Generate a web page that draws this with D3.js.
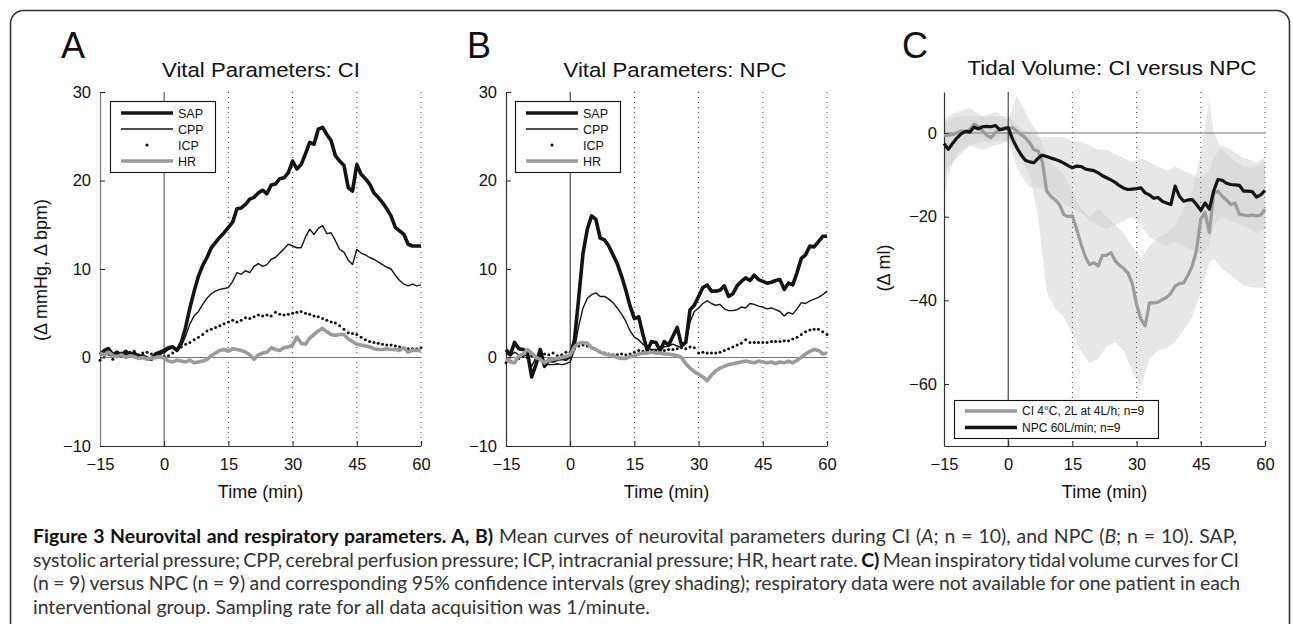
<!DOCTYPE html>
<html>
<head>
<meta charset="utf-8">
<script src="https://cdn.jsdelivr.net/npm/d3@7"></script>
<style>
  body { margin: 0; background: #fff; }
  svg text { font-family: 'Liberation Sans', Arial, sans-serif; }
</style>
</head>
<body>
<div id="chart"></div>
<script>
// sampling grid: one value per minute, -15 .. 60
const minutes = d3.range(-15, 61);
const xTicks = [-15, 0, 15, 30, 45, 60];
const gridMinutes = [15, 30, 45, 60];
const vitalTicks = [-10, 0, 10, 20, 30];
const tidalTicks = [-60, -40, -20, 0];
const vitalLegend = ["SAP", "CPP", "ICP", "HR"];
const tidalLegend = ["CI 4°C, 2L at 4L/h; n=9", "NPC 60L/min; n=9"];

// Panel A: CI
const aSAP = [0.3,0.8,1.0,0.3,0.6,0.2,0.7,0.3,0.5,0.1,0.2,-0.1,-0.2,0.4,0.6,
  0.8,1.1,1.2,0.8,1.7,3.4,5.6,7.5,9.2,10.4,11.3,12.4,13.0,13.6,14.1,14.7,15.3,16.8,16.9,17.3,
  17.9,18.1,18.6,18.9,18.5,19.5,19.6,20.2,20.3,20.9,22.2,21.3,21.8,23.0,24.3,24.1,25.8,26.0,25.2,24.5,
  22.8,22.2,21.7,19.2,18.8,21.8,20.7,20.2,19.6,18.6,18.1,17.5,16.8,16.0,14.7,14.3,13.9,12.8,12.6,12.6,12.6];
const aCPP = [0.5,0.6,0.3,0.1,0.4,0.2,0.3,0.0,0.2,0.0,-0.1,-0.2,0.0,0.3,0.4,
  0.5,0.9,1.1,0.7,1.3,2.4,3.8,4.7,5.2,6.0,6.7,7.2,7.5,7.7,7.8,7.9,8.6,9.6,9.4,9.8,
  9.6,10.3,10.6,10.3,10.5,11.1,11.3,11.8,12.3,12.8,12.6,12.4,12.4,13.6,14.5,13.9,14.6,14.9,14.0,14.1,
  13.2,12.2,11.9,11.0,10.5,12.2,11.8,11.6,11.3,11.1,10.8,10.5,10.2,10.0,9.3,8.7,8.3,8.1,8.3,8.1,8.2];
const aICP = [-0.3,0.2,0.4,-0.2,0.3,0.5,0.4,0.6,0.7,0.3,0.5,0.6,0.4,0.2,0.3,
  0.1,0.2,0.5,0.9,1.2,1.5,1.7,2.0,2.3,2.6,3.0,3.2,3.4,3.6,3.8,4.0,4.2,4.0,4.2,4.5,
  4.4,4.6,4.8,4.7,4.8,4.7,5.1,4.9,4.8,4.9,5.0,5.1,5.2,5.0,4.9,4.7,4.6,4.4,4.2,4.0,
  3.9,3.6,3.2,2.8,2.7,2.6,2.3,2.0,1.8,1.7,1.6,1.5,1.4,1.4,1.3,1.2,1.1,1.0,1.0,1.0,1.1];
const aHR = [0.5,0.3,0.6,0.2,0.1,0.3,0.0,0.2,0.1,-0.1,0.0,-0.2,-0.1,0.0,0.1,
  -0.1,-0.4,-0.5,-0.3,-0.4,-0.5,-0.3,-0.6,-0.5,-0.4,-0.2,0.2,0.5,0.8,0.9,0.7,1.0,0.9,0.8,0.6,
  0.3,-0.2,0.3,0.5,0.6,1.1,0.9,0.8,1.1,1.2,1.4,2.3,1.6,1.5,2.2,2.6,3.0,3.3,2.9,2.6,
  2.5,2.6,2.6,2.1,1.8,1.5,1.4,1.3,1.2,1.0,0.9,0.9,1.0,0.9,0.9,0.8,1.1,0.6,0.8,0.8,0.8];

// Panel B: NPC
const bSAP = [0.9,0.3,1.7,1.0,0.9,0.6,-2.2,-0.8,0.9,-1.0,-0.3,-0.4,-0.2,-0.1,-0.2,
  0.2,2.0,6.8,11.8,14.5,16.0,15.6,13.5,13.3,12.6,11.6,10.6,9.2,7.6,5.8,4.4,4.6,2.6,0.8,1.8,
  1.7,0.8,1.8,1.4,2.4,3.4,1.4,1.7,5.4,5.9,6.9,7.9,8.2,7.5,7.5,7.6,8.1,6.9,7.2,8.1,
  8.6,9.0,8.7,9.3,8.8,8.6,8.4,8.5,8.7,8.8,7.7,8.4,8.2,9.6,11.2,11.6,12.6,12.5,13.1,13.7,13.7];
const bCPP = [0.5,0.2,0.6,0.3,0.4,0.1,-1.0,0.0,0.3,-0.8,-0.8,-0.8,-0.7,-0.8,-0.7,
  -0.5,0.9,3.6,5.6,6.7,7.1,7.3,6.9,6.9,6.6,6.2,5.6,4.9,4.1,3.0,2.3,2.0,1.5,1.1,0.9,
  0.9,0.9,1.2,1.3,1.5,1.3,1.1,1.6,4.0,5.2,5.6,6.1,6.4,6.1,5.9,6.0,5.5,5.3,5.3,5.4,
  5.7,5.6,6.1,6.0,5.8,5.7,5.5,5.6,5.4,5.2,4.7,5.1,4.9,5.5,6.2,6.1,6.4,6.6,6.8,7.1,7.5];
const bICP = [-0.6,-0.4,-0.5,-0.1,0.1,0.0,0.2,0.0,0.1,0.4,0.3,0.5,0.2,0.3,0.6,
  0.6,1.0,1.3,1.4,1.3,1.1,0.9,0.6,0.5,0.4,0.3,0.3,0.4,0.3,0.4,0.6,0.8,0.7,0.7,0.8,
  0.7,0.8,0.8,0.9,0.9,1.0,1.1,1.0,1.2,1.1,0.5,0.6,0.5,0.5,0.5,0.6,0.8,1.0,1.2,1.4,
  1.6,2.0,1.7,1.7,1.7,1.7,1.7,1.8,1.8,1.8,1.9,1.9,2.1,2.3,2.6,2.9,3.1,3.2,3.2,2.9,2.6];
const bHR = [-0.2,-0.5,-0.6,0.2,0.4,0.9,0.5,0.0,-0.2,-0.6,-0.3,-0.2,-0.1,0.0,0.1,
  0.3,1.2,1.6,1.7,1.6,1.1,0.9,0.6,0.4,0.3,0.2,0.0,-0.1,-0.1,0.1,0.2,0.4,0.5,0.5,0.6,
  0.5,0.5,0.4,0.4,0.3,0.2,0.0,-0.7,-1.2,-1.6,-1.9,-2.2,-2.6,-2.0,-1.5,-1.2,-1.0,-0.8,-0.7,-0.6,
  -0.5,-0.4,-0.5,-0.6,-0.4,-0.5,-0.6,-0.5,-0.7,-0.5,-0.6,-0.4,-0.6,-0.3,0.0,0.4,0.7,0.9,0.8,0.4,0.5];

// Panel C: tidal volume
const cCI = [-0.7,-0.5,-0.4,0.0,0.5,0.3,0.8,2.1,1.5,0.5,-0.6,-1.1,0.1,0.8,1.3,
  0.9,1.3,0.5,-0.4,-1.1,-2.3,-4.0,-4.3,-7.0,-13.9,-15.2,-16.0,-17.1,-19.5,-20.0,-19.8,-23.0,-26.5,-29.5,-31.4,
  -31.0,-31.8,-29.3,-29.2,-28.6,-30.5,-31.6,-32.4,-33.5,-36.0,-41.0,-44.5,-46.1,-40.6,-40.6,-40.4,-39.8,-39.3,-38.3,-36.6,
  -36.0,-35.8,-34.0,-31.8,-28.0,-20.5,-19.0,-23.8,-14.5,-13.9,-15.1,-16.0,-17.1,-16.7,-19.4,-19.6,-19.8,-19.6,-19.8,-19.6,-18.2];
const cNPC = [-2.5,-3.9,-2.5,-1.2,-0.2,0.4,0.2,1.4,1.0,1.5,1.6,1.5,1.8,0.8,1.0,
  1.3,-1.4,-3.5,-5.2,-6.5,-6.9,-7.1,-6.0,-5.3,-5.6,-6.0,-6.3,-6.7,-7.2,-7.8,-8.3,-7.9,-8.0,-8.6,-8.8,
  -9.0,-9.5,-10.2,-10.7,-11.2,-11.8,-12.6,-13.2,-13.5,-13.4,-13.3,-13.1,-14.3,-14.8,-15.6,-15.4,-16.3,-16.7,-17.1,-12.7,
  -15.1,-16.3,-16.0,-15.9,-17.1,-18.5,-16.7,-18.2,-13.9,-11.1,-11.3,-12.0,-12.3,-12.4,-12.5,-13.9,-13.9,-14.0,-15.3,-14.8,-13.7];
// 95% confidence bands
const bandMinutes = [-15,-14,-12,-9,-6,-3,0,1,2,3,5,7,9,11,13,15,17,19,21,23,25,27,29,31,33,35,37,39,41,43,45,47,48,50,52,55,58,60];
const ciUpper = [3,4,5,6,4,5,3,6,9,7,3,0,-6,-8,-10,-14,-18,-20,-18,-20,-22,-24,-27,-30,-27,-25,-24,-22,-18,-14,-5,8,0,-4,-6,-8,-8,-7];
const ciLower = [-16,-10,-5,-3,-4,-3,-2,-3,-4,-6,-10,-20,-38,-42,-44,-48,-52,-55,-54,-51,-50,-52,-57,-60.6,-54,-52,-51.5,-50,-47,-44,-38,-31,-30,-32.5,-34,-36.5,-37,-37];
const npcUpper = [2,3,4,4,4,4,4,3,2,1,0,-1,-1,-1,-1,-2,-2,-3,-4,-4,-5,-6,-7,-6,-7,-8,-9,-8,-9,-10,-11,-9,-6,-3,-4,-6,-7,-6];
const npcLower = [-10,-8,-6,-3,-2,-2,-2,-5,-8,-10,-13,-13,-14,-15,-17,-18,-19,-21,-22,-23,-22,-21,-20,-22,-25,-26,-27,-26,-27,-28,-29,-27,-22,-20,-21,-22,-24,-23];

const captionLines = [
  [["b", "Figure 3 Neurovital and respiratory parameters. A, B)"], ["", " Mean curves of neurovital parameters during CI ("], ["i", "A"], ["", "; n = 10), and NPC ("], ["i", "B"], ["", "; n = 10). SAP,"]],
  [["", "systolic arterial pressure; CPP, cerebral perfusion pressure; ICP, intracranial pressure; HR, heart rate. "], ["b", "C)"], ["", " Mean inspiratory tidal volume curves for CI"]],
  [["", "(n = 9) versus NPC (n = 9) and corresponding 95% confidence intervals (grey shading); respiratory data were not available for one patient in each"]],
  [["", "interventional group. Sampling rate for all data acquisition was 1/minute."]]
];

const W = 1293, H = 624;
const yTop = 92, yBot = 446;
const black = "#141414", grey = "#9b9b9b";

const svg = d3.select("#chart").append("svg")
  .attr("width", W)
  .attr("height", H);

// outer frame
svg.append("rect")
  .attr("x", 10.5).attr("y", 10.5)
  .attr("width", 1279).attr("height", 700)
  .attr("rx", 13)
  .attr("fill", "none")
  .attr("stroke", "#333")
  .attr("stroke-width", 1.6);

function drawAxes(g, x, y, yTickValues, axisColor, labelPad) {
  const fmt = d3.format("d");
  const xa = g.append("g")
    .attr("transform", `translate(0,${yBot})`)
    .call(d3.axisBottom(x).tickValues(xTicks).tickSize(-5).tickSizeOuter(0).tickPadding(12).tickFormat(fmt));
  const ya = g.append("g")
    .attr("transform", `translate(${x.range()[0]},0)`)
    .call(d3.axisLeft(y).tickValues(yTickValues).tickSize(-5).tickSizeOuter(0).tickPadding(labelPad).tickFormat(fmt));
  [xa, ya].forEach(a => {
    a.selectAll("text").style("font-size", "16.5px").attr("fill", "#111")
      .style("font-family", "'Liberation Sans', Arial, sans-serif");
    a.selectAll("line").attr("stroke", "#222");
  });
  xa.select(".domain").attr("stroke", "#333").attr("stroke-width", 1.2);
  ya.select(".domain").attr("stroke", axisColor).attr("stroke-width", 1.2);
}

function drawFrameBits(g, x, y, zeroColor, zeroWidth) {
  g.selectAll(".grid").data(gridMinutes).join("line")
    .attr("class", "grid")
    .attr("x1", d => x(d)).attr("x2", d => x(d))
    .attr("y1", yTop).attr("y2", yBot)
    .attr("stroke", "#444")
    .attr("stroke-width", 1)
    .attr("stroke-dasharray", "1,4");
  g.append("line")
    .attr("x1", x(-15)).attr("x2", x(60))
    .attr("y1", y(0)).attr("y2", y(0))
    .attr("stroke", "#777").attr("stroke-width", 1.2);
  g.append("line")
    .attr("x1", x(0)).attr("x2", x(0))
    .attr("y1", yTop).attr("y2", yBot)
    .attr("stroke", zeroColor).attr("stroke-width", zeroWidth);
}

function vitalPanel(cfg) {
  const x = d3.scaleLinear().domain([-15, 60]).range([cfg.x0, cfg.x1]);
  const y = d3.scaleLinear().domain([-10, 30]).range([yBot, yTop]);
  const g = svg.append("g");

  drawFrameBits(g, x, y, cfg.zeroColor, cfg.zeroWidth);
  drawAxes(g, x, y, vitalTicks, cfg.axisColor, 9);

  const line = d3.line().x((d, i) => x(minutes[i])).y(d => y(d));
  g.append("path").datum(cfg.sap).attr("d", line)
    .attr("fill", "none").attr("stroke", black).attr("stroke-width", 3.6).attr("stroke-linejoin", "round");
  g.append("path").datum(cfg.cpp).attr("d", line)
    .attr("fill", "none").attr("stroke", black).attr("stroke-width", 1.4).attr("stroke-linejoin", "round");
  g.selectAll(".icp").data(cfg.icp).join("circle")
    .attr("class", "icp")
    .attr("cx", (d, i) => x(minutes[i])).attr("cy", d => y(d))
    .attr("r", 1.5).attr("fill", black);
  g.append("path").datum(cfg.hr).attr("d", line)
    .attr("fill", "none").attr("stroke", grey).attr("stroke-width", 3.6).attr("stroke-linejoin", "round");

  // legend
  const lg = g.append("g").attr("transform", `translate(${cfg.legendX},101)`);
  lg.append("rect").attr("x", 0.5).attr("y", 0.5).attr("width", 105).attr("height", 71)
    .attr("fill", "#fff").attr("stroke", "#111").attr("stroke-width", 1.1);
  const rows = lg.selectAll(".row").data(vitalLegend).join("g")
    .attr("class", "row")
    .attr("transform", (d, i) => `translate(0,${12 + i * 16})`);
  rows.each(function(d) {
    const r = d3.select(this);
    if (d === "ICP") {
      r.append("circle").attr("cx", 37).attr("cy", 0).attr("r", 1.6).attr("fill", black);
    } else {
      r.append("line").attr("x1", 11).attr("x2", 63).attr("y1", 0).attr("y2", 0)
        .attr("stroke", d === "HR" ? grey : black)
        .attr("stroke-width", d === "CPP" ? 1.4 : 3.6);
    }
    r.append("text").attr("x", 68).attr("y", 4.5).text(d)
      .style("font-size", "12.5px").attr("fill", "#111");
  });

  svg.append("text").attr("x", cfg.letterX).attr("y", 58).text(cfg.letter)
    .style("font-size", "36px").attr("fill", "#111");
  svg.append("text").attr("x", cfg.titleX).attr("y", 77).attr("text-anchor", "middle")
    .attr("textLength", cfg.titleLen).attr("lengthAdjust", "spacingAndGlyphs")
    .text(cfg.title).style("font-size", "20.5px").attr("fill", "#111");
  svg.append("text").attr("x", (cfg.x0 + cfg.x1) / 2).attr("y", 498).attr("text-anchor", "middle")
    .text("Time (min)").style("font-size", "18px").attr("fill", "#111");
}

vitalPanel({
  x0: 100, x1: 421, sap: aSAP, cpp: aCPP, icp: aICP, hr: aHR,
  legendX: 110, letter: "A", letterX: 61, title: "Vital Parameters: CI", titleX: 261, titleLen: 198,
  zeroColor: "#8a8a8a", zeroWidth: 1.6, axisColor: "#777"
});
vitalPanel({
  x0: 506, x1: 827, sap: bSAP, cpp: bCPP, icp: bICP, hr: bHR,
  legendX: 515, letter: "B", letterX: 467, title: "Vital Parameters: NPC", titleX: 675, titleLen: 223,
  zeroColor: "#222", zeroWidth: 1, axisColor: "#333"
});

svg.append("text")
  .attr("transform", "translate(46.5,270) rotate(-90)")
  .attr("text-anchor", "middle")
  .text("(Δ mmHg, Δ bpm)")
  .style("font-size", "18px").attr("fill", "#111");

// Panel C
{
  const x = d3.scaleLinear().domain([-15, 60]).range([944, 1265]);
  const y = d3.scaleLinear().domain([-74.8, 9.8]).range([yBot, yTop]);
  const g = svg.append("g");

  const area = (up, lo) => d3.area()
    .x((d, i) => x(bandMinutes[i]))
    .y0((d, i) => y(lo[i]))
    .y1(d => y(d))(up);
  g.append("path").attr("d", area(ciUpper, ciLower))
    .attr("fill", "#cfcfcf").attr("fill-opacity", 0.5);
  g.append("path").attr("d", area(npcUpper, npcLower))
    .attr("fill", "#cfcfcf").attr("fill-opacity", 0.5);

  drawFrameBits(g, x, y, "#222", 1);
  drawAxes(g, x, y, tidalTicks, "#333", 7);

  const line = d3.line().x((d, i) => x(minutes[i])).y(d => y(d));
  g.append("path").datum(cCI).attr("d", line)
    .attr("fill", "none").attr("stroke", grey).attr("stroke-width", 3.2).attr("stroke-linejoin", "round");
  g.append("path").datum(cNPC).attr("d", line)
    .attr("fill", "none").attr("stroke", black).attr("stroke-width", 3.2).attr("stroke-linejoin", "round");

  const lg = g.append("g").attr("transform", "translate(954,400)");
  lg.append("rect").attr("x", 0.5).attr("y", 0.5).attr("width", 204).attr("height", 38)
    .attr("fill", "#fff").attr("stroke", "#111").attr("stroke-width", 1.1);
  lg.selectAll(".row").data(tidalLegend).join("g")
    .attr("class", "row")
    .attr("transform", (d, i) => `translate(0,${11 + i * 16.5})`)
    .each(function(d, i) {
      const r = d3.select(this);
      r.append("line").attr("x1", 11).attr("x2", 63).attr("y1", 0).attr("y2", 0)
        .attr("stroke", i === 0 ? grey : black).attr("stroke-width", 3.4);
      r.append("text").attr("x", 68).attr("y", 4.3).text(d)
        .style("font-size", "12px").attr("fill", "#111");
    });

  svg.append("text").attr("x", 902).attr("y", 58).text("C")
    .style("font-size", "36px").attr("fill", "#111");
  svg.append("text").attr("x", 1112).attr("y", 75).attr("text-anchor", "middle")
    .attr("textLength", 289).attr("lengthAdjust", "spacingAndGlyphs")
    .text("Tidal Volume: CI versus NPC").style("font-size", "20.5px").attr("fill", "#111");
  svg.append("text").attr("x", 1104.5).attr("y", 498).attr("text-anchor", "middle")
    .text("Time (min)").style("font-size", "18px").attr("fill", "#111");
  svg.append("text")
    .attr("transform", "translate(890,268) rotate(-90)")
    .attr("text-anchor", "middle")
    .text("(Δ ml)")
    .style("font-size", "18px").attr("fill", "#111");
}

// caption: size the font from the last (unjustified) line, then justify lines 1-3 with word spacing
const capBase = [543, 566.5, 590, 613.5];
const capEnd = [1237, 1239, 1240, 650];
const capX = 33;
const capTexts = captionLines.map((segs, li) => {
  const t = svg.append("text")
    .attr("x", capX).attr("y", capBase[li])
    .style("font-family", "Lato, 'Open Sans', sans-serif")
    .style("font-size", "16px")
    .attr("fill", "#333");
  segs.forEach(([kind, str]) => {
    const s = t.append("tspan").text(str);
    if (kind === "b") s.style("font-weight", "bold").attr("fill", "#111");
    if (kind === "i") s.style("font-style", "italic");
  });
  return t;
});
const lastW = capTexts[3].node().getComputedTextLength();
const capSize = Math.max(15, Math.min(20, 16 * (capEnd[3] - capX) / lastW));
capTexts.forEach((t, li) => {
  t.style("font-size", capSize + "px");
  if (li < 3) {
    const natural = t.node().getComputedTextLength();
    const spaces = captionLines[li].map(s => s[1]).join("").split(" ").length - 1;
    t.style("word-spacing", ((capEnd[li] - capX - natural) / spaces) + "px");
  }
});
</script>
</body>
</html>
